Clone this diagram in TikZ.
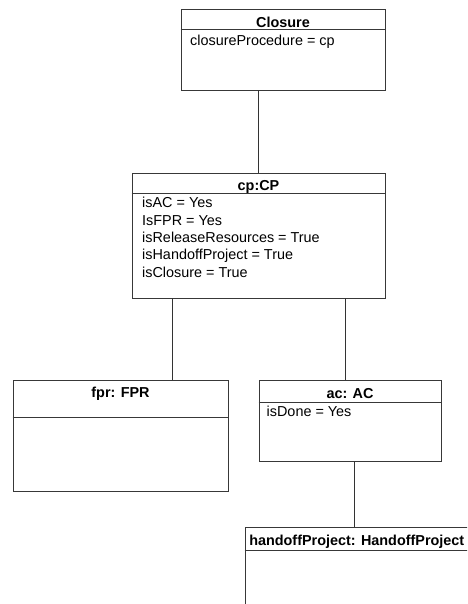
\documentclass[tikz,border=0pt]{standalone}
\usepackage{fontspec}
\setmainfont{Liberation Sans}
\begin{document}
\begin{tikzpicture}[x=1pt,y=-1pt,
  box/.style={draw=black!78, line width=0.9pt, rectangle, inner sep=0pt, fill=white},
  sep/.style={draw=black!78, line width=0.9pt},
  link/.style={draw=black!80, line width=0.9pt},
  title/.style={font=\fontsize{14.4}{17}\selectfont\bfseries, inner sep=0pt, anchor=base, text=black},
  attr/.style={font=\fontsize{14.4}{17}\selectfont, inner sep=0pt, anchor=base west, text=black}]
  \useasboundingbox (0,0) rectangle (467,604);
  \clip (0,0) rectangle (467,604);

  % object boxes
  \node[box, minimum width=204, minimum height=81] (closure) at (283,49.5) {};
  \node[box, minimum width=253, minimum height=125] (cp) at (258.5,235.5) {};
  \node[box, minimum width=215, minimum height=111] (fpr) at (120.5,435.5) {};
  \node[box, minimum width=182, minimum height=81] (ac) at (350,420.5) {};
  \node[box, minimum width=223.5, minimum height=93] (handoff) at (356.75,573.5) {};

  % header separators
  \draw[sep] (closure.west |- 0,29) -- (closure.east |- 0,29);
  \draw[sep] (cp.west |- 0,193) -- (cp.east |- 0,193);
  \draw[sep] (fpr.west |- 0,417) -- (fpr.east |- 0,417);
  \draw[sep] (ac.west |- 0,402.7) -- (ac.east |- 0,402.7);
  \draw[sep] (handoff.west |- 0,550) -- (handoff.east |- 0,550);

  % titles
  \node[title] (closureT) at (283,27.5) {Closure};
  \node[title] (cpT) at (258.5,190.5) {cp:CP};
  \node[title] (fprT) at (120.5,397.3) {fpr: FPR};
  \node[title] (acT) at (350,398.3) {ac: AC};
  \node[title] (handoffT) at (356.75,545) {handoffProject: HandoffProject};

  % attributes
  \node[attr] (closureA) at (190,45.7) {closureProcedure = cp};
  \node[attr] (cpA1) at (142,207.7) {isAC = Yes};
  \node[attr] (cpA2) at (142,225) {IsFPR = Yes};
  \node[attr] (cpA3) at (142,242.4) {isReleaseResources = True};
  \node[attr] (cpA4) at (142,259.8) {isHandoffProject = True};
  \node[attr] (cpA5) at (142,277) {isClosure = True};
  \node[attr] (acA1) at (266.5,416) {isDone = Yes};

  % links
  \draw[link] ([xshift=-0.5pt]cp.north) -- ([xshift=-0.5pt]cp.north |- closure.south);
  \draw[link] ([xshift=51.5pt]fpr.north) -- ([xshift=51.5pt]fpr.north |- cp.south);
  \draw[link] ([xshift=-5pt]ac.north) -- ([xshift=-5pt]ac.north |- cp.south);
  \draw[link] ([xshift=4pt]ac.south) -- ([xshift=4pt]ac.south |- handoff.north);
\end{tikzpicture}
\end{document}
